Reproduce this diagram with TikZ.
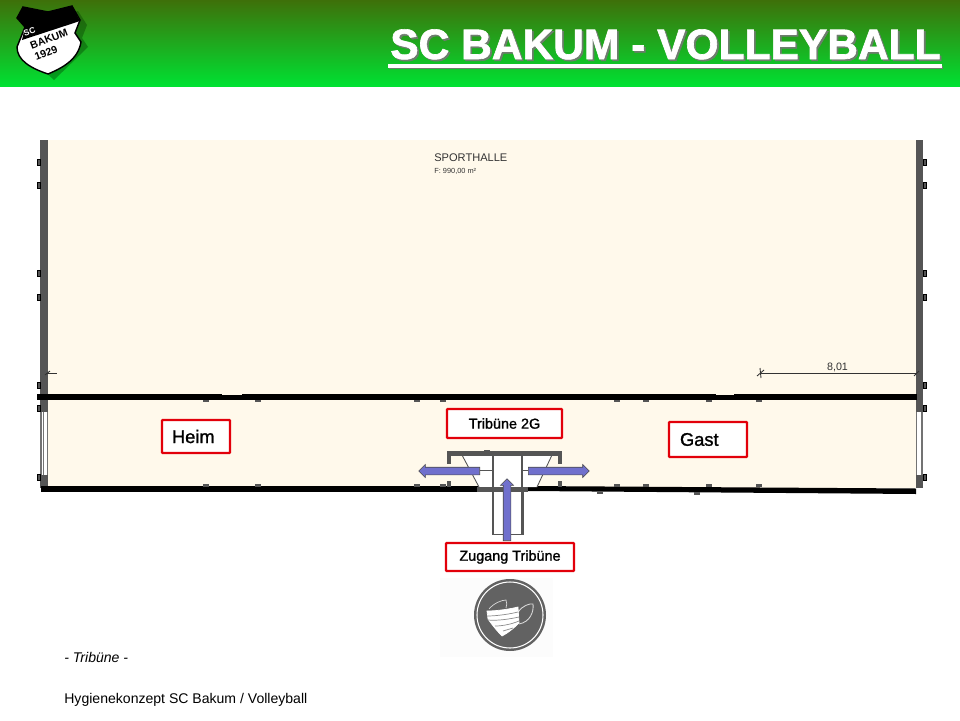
\documentclass[tikz,border=0pt]{standalone}
\usepackage{fontspec}
\usepackage{xcolor}
\usepackage{tikz}
\usetikzlibrary{shapes,arrows,positioning}
\setmainfont{Liberation Sans}
\newfontfamily\labelfont[FakeBold=1.2]{Liberation Sans}
\newfontfamily\headfont[FakeBold=1.5,BoldFont={Liberation Sans Bold}]{Liberation Sans Bold}
\definecolor{hallcream}{RGB}{255,249,235}
\definecolor{wallgray}{RGB}{85,85,85}
\definecolor{labelred}{RGB}{226,0,10}
\definecolor{arrowblue}{RGB}{112,112,205}
\definecolor{headtop}{RGB}{62,112,10}
\definecolor{headmid}{RGB}{30,150,35}
\definecolor{headbot}{RGB}{0,225,50}
\definecolor{titleshade}{RGB}{110,125,110}
\definecolor{iconback}{RGB}{98,98,98}
\newcommand{\titleline}{SC BAKUM - VOLLEYBALL}

\begin{document}
\begin{tikzpicture}[
    x=0.02cm, y=-0.02cm,
    wall/.style={fill=wallgray, draw=none},
    blackwall/.style={fill=black, draw=none},
    thinline/.style={draw=wallgray, line width=0.5pt},
    labelbox/.style={rectangle, draw=labelred, fill=white, line width=1.2pt, rounded corners=0.4pt, inner ysep=0pt, font=\labelfont\fontsize{8.2}{10}\selectfont},
    nameplate/.style={labelbox, font=\labelfont\fontsize{10.4}{12}\selectfont, align=left},
    blockarrow/.style={single arrow, fill=arrowblue, draw=black!70, line width=0.3pt, minimum width=0.25cm, inner sep=0.07cm, single arrow head extend=0.055cm, anchor=tail},
    plantext/.style={text=black!80, inner sep=0pt, anchor=west},
    foottext/.style={inner sep=0pt, anchor=west, font=\fontsize{8}{9}\selectfont}
]
\useasboundingbox (0,0) rectangle (960,720);

% Header
\fill[white] (0,0) rectangle (960,720);
\shade[top color=headtop, middle color=headmid, bottom color=headbot] (0,0) rectangle (960,86);
\node[anchor=base east, inner sep=0pt, text=white, font=\headfont\fontsize{24.2}{26}\selectfont] (title) at (941,59)
    {\rlap{\kern1pt\raisebox{-1pt}{\textcolor{titleshade}{\titleline}}}\titleline};
\fill[titleshade] (389,66) rectangle (943,69);
\fill[white] (388,63.5) rectangle (942,68);

% Logo
\fill[black!70!green!60!black, opacity=0.35] (29,12) -- (54,17) -- (78,11) -- (87,25) -- (82,38) -- (88,47) -- (54,80) -- (23,52) -- (31,32) -- cycle;
\draw[black, fill=white, line width=0.8pt] (23,7) -- (48,12) -- (72,6) -- (80,20) -- (75,33) -- (81,42) .. controls (78,60) and (62,68) .. (48,74) .. controls (30,68) and (17,60) .. (17,47) -- (25,27) -- (17,18) -- cycle;
\fill[black] (23,7) -- (48,12) -- (72,6) -- (80,21) -- (22,40) -- (25,27) -- (17,18) -- cycle;
\node[rotate=20, inner sep=0pt, text=white, font=\bfseries\fontsize{4.8}{5}\selectfont] (logosc) at (29.5,31.5) {SC};
\node[rotate=21, inner sep=0pt, font=\bfseries\fontsize{6}{7}\selectfont] (logoname) at (49,39) {BAKUM};
\node[rotate=21, inner sep=0pt, font=\bfseries\fontsize{6}{7}\selectfont] (logoyear) at (46,53) {1929};

% Hall floor
\fill[hallcream] (48,140) rectangle (916,488);

% Side walls
\fill[wall] (40,140) rectangle (48,412);
\fill[wall] (916,140) rectangle (923,412);
\fill[wall] (40,475) rectangle (48,488);
\fill[wall] (916,475) rectangle (923,488);
\fill[white] (41,412) rectangle (47,475);
\fill[white] (917,412) rectangle (922,475);
\draw[draw=black!55, line width=0.6pt] (41,412) -- (41,475) (43.5,412) -- (43.5,475) (47.5,412) -- (47.5,475);
\draw[draw=black!55, line width=0.6pt] (916.5,412) -- (916.5,475) (922,412) -- (922,475);
\foreach \y in {162,185,273,297,385,408,477} {
    \draw[wall, draw=black, line width=0.3pt] (37.5,\y-3) rectangle (40,\y+3);
    \draw[wall, draw=black, line width=0.3pt] (923,\y-3) rectangle (926,\y+3);
}

% Black hall lines
\fill[blackwall] (37,394) rectangle (917,400);
\fill[hallcream] (222,394) rectangle (242,395);
\fill[hallcream] (716,394) rectangle (734,395);
\fill[blackwall] (41,486) rectangle (478,492);
\fill[blackwall] (528,486) -- (916,488.5) -- (916,494) -- (528,491) -- cycle;
\foreach \x in {206,258,417,443,617,646,709,759} {
    \fill[wallgray] (\x-3,400) rectangle (\x+3,402);
    \fill[wallgray] (\x-3,484) rectangle (\x+3,486.5);
}
\fill[wallgray] (597,491.5) rectangle (603,494);
\fill[wallgray] (694,492) rectangle (700,494.5);

% Tribune stairs
\fill[white] (462,455) -- (553,455) -- (537,487) -- (479,487) -- cycle;
\fill[wall] (447,451) rectangle (562,455.5);
\fill[wall] (447,451) rectangle (451,464);
\fill[wall] (558,451) rectangle (562,464);
\fill[wall] (484,450) rectangle (490,452);
\fill[wall] (447,481) rectangle (451,487);
\fill[wall] (558,481) rectangle (562,487);
\draw[thinline] (462,455) -- (479,487);
\draw[thinline] (552,455) -- (537,487);
\draw[thinline, line width=0.7pt] (493,455) -- (493,487);
\draw[thinline, line width=0.7pt] (522,455) -- (522,487);
\draw[thinline] (480,470) -- (493,470);
\draw[thinline] (522,470) -- (528,470);
\fill[wall] (477,487) rectangle (528,491.5);
\fill[wall] (491.5,491.5) rectangle (494,535);
\fill[wall] (521,491.5) rectangle (523.5,535);
\draw[thinline] (494,534) -- (521,534);

% Measure
\draw[draw=black!80, line width=0.5pt] (760,373) -- (917,373);
\draw[draw=black!80, line width=0.5pt] (760,368) -- (761,378);
\draw[draw=black!80, line width=0.5pt] (757,376) -- (764,370);
\draw[draw=black!80, line width=0.5pt] (914,376) -- (919,371);
\draw[draw=black!80, line width=0.5pt] (46,373) -- (57,373);
\draw[draw=black!80, line width=0.5pt] (45,375) -- (50,371);
\node[plantext, anchor=center, font=\fontsize{6.1}{7}\selectfont] (measure) at (837.5,367) {8,01};

% Hall texts
\node[plantext, font=\fontsize{6.3}{7}\selectfont] (hallname) at (434,157.5) {SPORTHALLE};
\node[plantext, font=\fontsize{4.2}{5}\selectfont] (hallarea) at (434,171) {F: 990,00 m²};

% Labels
\node[nameplate, minimum width=1.36cm, minimum height=0.66cm, text width=0.96cm, inner xsep=0.2cm] (heim) at (196,436.5) {Heim};
\node[nameplate, minimum width=1.56cm, minimum height=0.7cm, text width=1.12cm, inner xsep=0.22cm] (gast) at (708,439.5) {Gast};
\node[labelbox, minimum width=2.3cm, minimum height=0.58cm] (tribuene) at (504.5,423.5) {Tribüne 2G};
\node[labelbox, minimum width=2.56cm, minimum height=0.56cm] (zugang) at (510,557) {Zugang Tribüne};

% Arrows
\node[blockarrow, minimum height=1.22cm, shape border rotate=180] (arrowleft) at (480,471) {};
\node[blockarrow, minimum height=1.22cm] (arrowright) at (528,471) {};
\node[blockarrow, minimum height=1.24cm, shape border rotate=90] (arrowup) at (507,541) {};

% Mask icon
\fill[black!1] (440,578) rectangle (553,657);
\fill[iconback] (510,615) circle (36);
\draw[white, line width=0.6pt] (510,615) circle (33);
\draw[white!85!black, line width=0.4pt] (489,609) .. controls (494,603) and (502,600) .. (506,600) .. controls (507,603) and (507,605) .. (506,608);
\draw[white!85!black, line width=0.5pt] (518,612) .. controls (522,606) and (530,603) .. (533,604) .. controls (534,612) and (530,622) .. (519,624);
\draw[fill=white, draw=white] (487,611) .. controls (497,611) and (510,609) .. (518,607) -- (519,623) .. controls (514,628) and (508,633) .. (502,636) .. controls (496,630) and (490,622) .. (488,619) -- cycle;
\draw[black!45, line width=0.4pt] (487,616) .. controls (497,616) and (510,614) .. (518,612);
\draw[black!45, line width=0.4pt] (488,620) .. controls (497,621) and (510,619) .. (519,617);
\draw[black!45, line width=0.4pt] (495,626) .. controls (503,626) and (512,624) .. (519,621);
\draw[black!45, line width=0.4pt] (503,631) -- (513,628);

% Footer
\node[foottext, font=\itshape\fontsize{8}{9}\selectfont] (slidename) at (64,657.5) {- Tribüne -};
\node[foottext] (footer) at (64,699.5) {Hygienekonzept SC Bakum / Volleyball};

\end{tikzpicture}
\end{document}
